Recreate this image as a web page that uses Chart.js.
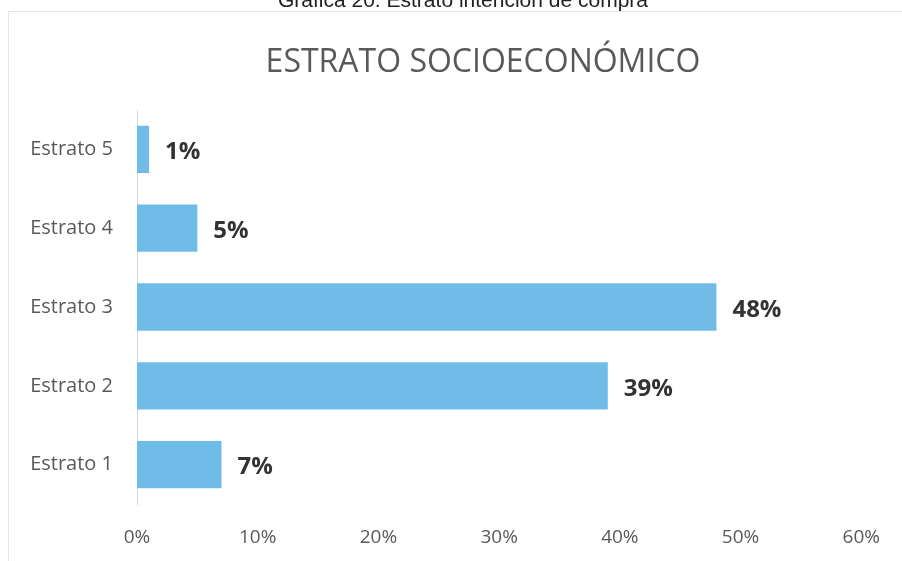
<!DOCTYPE html>
<html>
<head>
<meta charset="utf-8">
<script src="https://cdn.jsdelivr.net/npm/chart.js@4/dist/chart.umd.min.js"></script>
<style>
  html, body { margin: 0; padding: 0; background: #ffffff; }
  #wrap { position: relative; width: 902px; height: 561px; overflow: hidden; background: #ffffff; }
  #caption { position: absolute; left: 0; width: 926px; top: -12px; text-align: center; line-height: 24px;
             font-family: "Liberation Sans", Arial, sans-serif; font-size: 21px; color: #222; }
  canvas { position: absolute; left: 0; top: 0; }
</style>
</head>
<body>
<div id="wrap">
  <canvas id="c" width="902" height="561"></canvas>
  <div id="caption">Gráfica 20. Estrato intención de compra</div>
</div>
<script>
const chartTitle = 'ESTRATO SOCIOECONÓMICO';
const categories = ['Estrato 5', 'Estrato 4', 'Estrato 3', 'Estrato 2', 'Estrato 1'];
const values = [1, 5, 48, 39, 7];
const xTickValues = [0, 10, 20, 30, 40, 50, 60];

const frame = {
  id: 'frame',
  beforeDraw(chart) {
    const ctx = chart.ctx;
    ctx.save();
    ctx.strokeStyle = '#e6e6e6';
    ctx.lineWidth = 1;
    ctx.strokeRect(8.5, 11.5, 1000, 600);
    ctx.restore();
  }
};

const titleDraw = {
  id: 'titleDraw',
  afterDraw(chart) {
    const ctx = chart.ctx;
    ctx.save();
    ctx.font = '32px "Open Sans"';
    ctx.fillStyle = '#595959';
    ctx.textAlign = 'center';
    ctx.textBaseline = 'middle';
    ctx.fillText(chartTitle, 483, 63);
    ctx.restore();
  }
};

const barLabels = {
  id: 'barLabels',
  afterDatasetsDraw(chart) {
    const ctx = chart.ctx;
    const meta = chart.getDatasetMeta(0);
    ctx.save();
    ctx.font = 'bold 24px "Open Sans"';
    ctx.fillStyle = '#333333';
    ctx.textAlign = 'left';
    ctx.textBaseline = 'middle';
    meta.data.forEach((bar, i) => {
      ctx.fillText(values[i] + '%', bar.x + 16, bar.y + 3);
    });
    ctx.restore();
  }
};

new Chart(document.getElementById('c'), {
  type: 'bar',
  data: {
    labels: categories,
    datasets: [{
      data: values,
      backgroundColor: '#70bce9',
      borderWidth: 0,
      barPercentage: 0.6,
      categoryPercentage: 1.0
    }]
  },
  options: {
    indexAxis: 'y',
    responsive: false,
    animation: false,
    devicePixelRatio: 1,
    layout: { padding: { top: 110, right: 36, left: 0, bottom: 0 } },
    plugins: {
      legend: { display: false },
      title: { display: false },
      tooltip: { enabled: false }
    },
    scales: {
      x: {
        min: 0, max: 60,
        afterBuildTicks(scale) { scale.ticks = xTickValues.map(v => ({ value: v })); },
        ticks: {
          callback: v => v + '%',
          font: { family: '"Open Sans"', size: 19 },
          color: '#595959',
          padding: 22,
          maxRotation: 0
        },
        grid: { display: false, drawTicks: false },
        border: { display: false },
        afterFit(scale) { scale.height = 57; }
      },
      y: {
        ticks: {
          font: { family: '"Open Sans"', size: 20 },
          color: '#595959',
          padding: 24
        },
        grid: { display: false, drawTicks: false },
        border: { display: true, color: '#d9d9d9', width: 1 },
        afterFit(scale) { scale.width = 137; }
      }
    }
  },
  plugins: [frame, titleDraw, barLabels]
});
</script>
</body>
</html>
